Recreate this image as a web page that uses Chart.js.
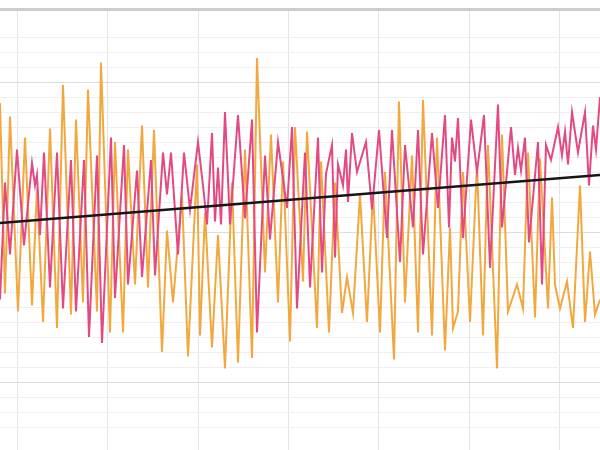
<!DOCTYPE html>
<html>
<head>
<meta charset="utf-8">
<script src="https://cdn.jsdelivr.net/npm/chart.js@4/dist/chart.umd.min.js"></script>
<style>
  html, body { margin: 0; padding: 0; background: #ffffff; }
  canvas { display: block; }
</style>
</head>
<body>
<canvas id="c" width="600" height="450"></canvas>
<script>
// ---- data (time index, value) ----
const pinkT = [0,1.25,2.5,4.25,6,8,8.75,9.25,10,11,12.5,14.25,15.75,17.75,19,21,22.25,24.25,25.5,27.75,28.75,31,32,34.25,35.5,37.75,38.75,40.75,41.75,42.75,44.5,46,47.5,49.5,51,51.75,53,53.75,54.5,55.25,56.25,57.5,59.5,61.25,63,64.25,66.25,67.5,69.5,71.75,73,74.25,76.25,77.5,79.5,80.5,81.5,83,83.75,84.5,85.75,86.5,87,88,89.25,91.5,93,94.75,96.75,98,100,101.25,103.25,104.5,105.75,108,109.5,111.25,112.25,113,113.75,114.5,115.75,117.75,119.25,121,122.5,124.5,125.5,127.75,128.75,129.5,130.25,131.25,132.25,134.5,135.5,136.5,137.75,139.5,140.5,141.25,142,143,144.5,146.25,147.25,148.25,149,150];
const pinkV = [9.5,17.3,12.5,19.5,13.1,18.6,17.1,17.8,13.8,19.3,10.3,19.3,8.9,18.8,8.7,18.8,7.0,19.1,6.6,20.3,9.6,19.8,10.5,18.1,11.0,18.8,11.1,19.3,16.5,19.3,12.5,19.3,15.5,20.0,16.5,14.5,20.6,14.7,18.3,14.5,22.0,14.5,21.8,14.9,21.5,7.3,19.1,13.5,20.0,15.6,21.0,8.9,19.3,10.3,20.3,11.3,17.9,19.8,12.3,18.5,17.1,19.5,16.0,20.6,18.0,20.0,15.5,20.8,13.6,20.8,12.0,19.8,14.3,20.8,12.5,20.6,15.6,21.8,14.3,20.3,18.7,21.6,13.6,21.5,18.0,21.8,11.6,22.5,14.3,21.0,17.8,19.6,18.1,20.3,13.3,20.0,10.5,19.8,18.8,21.0,19.1,20.7,18.5,22.0,19.3,22.0,17.1,21.1,19.5,23.0];

const orangeT = [0,1.25,2.5,4.5,6.25,8,9.25,10.75,12.5,14.25,15.75,17.75,19,20.75,22,24.25,25.25,27.5,28.75,30.75,32,33.75,35.5,37,38.5,40.5,41.75,43.25,45.5,47,49.25,50,51.25,53,54.5,56.25,58,59.5,61.25,63,64.25,66.25,67.75,69.5,70.75,72.5,73.75,75.75,76.75,79.25,80.25,82.25,83.75,85.5,86.75,88.25,90,91.75,93.25,95,96.25,98.5,99.75,101.25,103,104.5,105.75,108,109.25,111.25,112.5,113.25,114.5,115.75,117.5,119.25,120.75,122,124.25,125.5,127,129.25,130.75,132,133.75,135,137,138,138.75,140,141.75,143.25,145,146.25,147.5,148.75,150];
const orangeV = [22.6,9.9,21.7,8.7,20.3,9.1,16.9,8.0,20.9,7.6,23.8,8.5,21.5,9.3,23.5,8.7,25.3,7.3,20.0,7.3,19.5,10.5,21.1,10.3,20.8,6.0,14.1,9.3,16.5,5.7,18.5,7.1,15.3,6.3,13.8,4.9,17.3,5.3,19.5,5.6,25.6,11.3,20.5,9.3,18.7,6.7,21.0,10.7,20.7,7.6,18.7,7.3,17.3,8.6,11.0,8.6,16.5,8.0,16.7,7.3,18.0,5.5,22.7,9.3,19.1,7.3,22.8,7.1,20.3,6.1,14.3,7.6,8.7,18.0,8.0,18.5,7.1,19.8,4.9,20.5,8.7,10.5,8.9,19.3,8.3,18.9,8.9,16.3,10.5,8.9,10.7,7.6,17.1,8.0,12.7,8.5,9.5];

const trendT = [0, 150];
const trendV = [14.6, 17.8];

// vertical grid positions (time index)
const dayTicks = [4.25, 26.9, 49.5, 72, 94.6, 117.25, 139.9];

const Y_MIN = -0.533, Y_MAX = 28.867;

const pts = (t, v) => t.map((x, i) => ({ x: x, y: v[i] }));

new Chart(document.getElementById('c'), {
  type: 'line',
  data: {
    datasets: [
      { label: 'orange', data: pts(orangeT, orangeV), borderColor: '#f2a83e', borderWidth: 2, pointRadius: 0, tension: 0, order: 3 },
      { label: 'pink', data: pts(pinkT, pinkV), borderColor: '#e34a84', borderWidth: 2, pointRadius: 0, tension: 0, order: 2 },
      { label: 'trend', data: pts(trendT, trendV), borderColor: '#151515', borderWidth: 2.5, pointRadius: 0, tension: 0, order: 1 }
    ]
  },
  options: {
    responsive: false,
    animation: false,
    devicePixelRatio: 1,
    layout: { padding: { top: 9, left: 0, right: 0, bottom: 0 } },
    plugins: { legend: { display: false }, tooltip: { enabled: false } },
    scales: {
      x: {
        type: 'linear', min: 0, max: 150,
        ticks: { display: false },
        grid: { drawTicks: false, color: '#e4e4e4', lineWidth: 1 },
        border: { display: false },
        afterBuildTicks: (s) => { s.ticks = dayTicks.map(v => ({ value: v })); }
      },
      y: {
        type: 'linear', min: Y_MIN, max: Y_MAX,
        ticks: { display: false, stepSize: 1 },
        grid: {
          drawTicks: false,
          color: (ctx) => {
            const v = ctx.tick.value;
            if (Math.abs(v - Y_MAX) < 1e-6) return '#cdcdcd';
            if (Math.abs(v - Y_MIN) < 1e-6) return 'rgba(0,0,0,0)';
            if (Math.round(v) % 10 === 4) return '#dcdcdc';
            return '#efefef';
          },
          lineWidth: (ctx) => Math.abs(ctx.tick.value - Y_MAX) < 1e-6 ? 3 : 1
        },
        border: { display: false }
      }
    }
  }
});
</script>
</body>
</html>
